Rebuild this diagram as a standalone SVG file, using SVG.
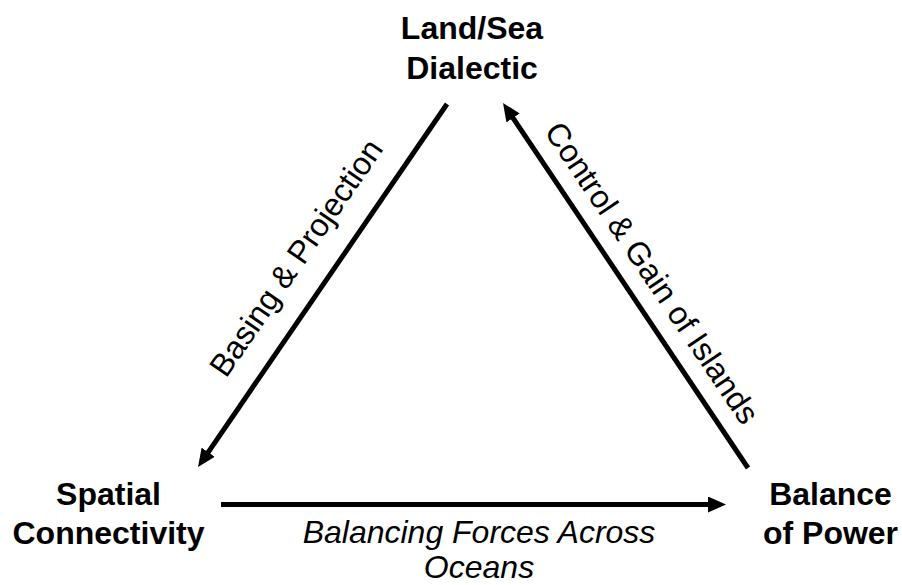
<svg xmlns="http://www.w3.org/2000/svg" width="902" height="585" viewBox="0 0 902 585">
  <style>
    .node { font-family: "Liberation Sans", Arial, sans-serif; font-size: 32px; font-weight: bold; fill: #000; text-anchor: middle; }
    .label { font-family: "Liberation Sans", Arial, sans-serif; font-size: 32px; fill: #000; text-anchor: middle; }
    .italic { font-style: italic; }
    .edge { stroke: #000; stroke-width: 5; fill: none; marker-end: url(#arrow); }
  </style>
  <defs>
    <marker id="arrow" markerUnits="userSpaceOnUse" markerWidth="20" markerHeight="18" refX="8" refY="8" orient="auto">
      <path d="M0,0 L18,8 L0,16 Z" fill="#000"/>
    </marker>
  </defs>
  <rect width="902" height="585" fill="#fff"/>

  <g id="connectors">
    <line class="edge" x1="447" y1="104" x2="203.7" y2="458.8"/>
    <line class="edge" x1="748" y1="468" x2="508.6" y2="111.3"/>
    <line class="edge" x1="221" y1="504.5" x2="716" y2="504.5"/>
    <text class="label" transform="translate(305,264) rotate(-55.5)">Basing &amp; Projection</text>
    <text class="label" transform="translate(643,279) rotate(56)">Control &amp; Gain of Islands</text>
    <text class="label italic" x="479" y="543">Balancing Forces Across</text>
    <text class="label italic" x="479" y="578">Oceans</text>
  </g>

  <g id="land-sea-dialectic">
    <text class="node" x="472" y="39">Land/Sea</text>
    <text class="node" x="472" y="79">Dialectic</text>
  </g>
  <g id="spatial-connectivity">
    <text class="node" x="108.5" y="505">Spatial</text>
    <text class="node" x="108.5" y="544">Connectivity</text>
  </g>
  <g id="balance-of-power">
    <text class="node" x="830.5" y="505">Balance</text>
    <text class="node" x="830.5" y="544">of Power</text>
  </g>
</svg>
